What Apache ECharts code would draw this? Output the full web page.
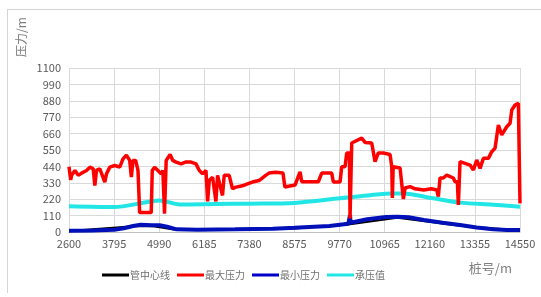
<!DOCTYPE html>
<html>
<head>
<meta charset="utf-8">
<script src="https://cdn.jsdelivr.net/npm/echarts@6/dist/echarts.min.js"></script>
<style>
  html, body { margin: 0; padding: 0; background: #fff; }
  #wrap { position: relative; width: 541px; height: 297px; }
  #frame {
    position: absolute; left: 7px; top: 9px; right: -2px; bottom: 4px;
    border-left: 1px solid #d4d4d4; border-top: 1px solid #d4d4d4;
  }
  #chart { position: absolute; left: 0; top: 0; width: 541px; height: 297px; }
</style>
</head>
<body>
<div id="wrap">
  <div id="frame"></div>
  <div id="chart"></div>
</div>
<script>
// 桩号 / 压力 读数
const seriesNames = ["管中心线", "最大压力", "最小压力", "承压值"];

const pipeStations = [2600, 4300, 4800, 5450, 8575, 10000, 11300, 12960, 14550];
const pipeValues = [6, 38, 40, 14, 24, 50, 96, 42, 10];

const maxStations = [
  2600, 2644, 2670, 2758, 2846, 2934, 3066, 3154, 3241, 3285, 3329, 3417, 3461, 3549, 3593, 3681,
  3813, 3944, 4032, 4120, 4208, 4252, 4296, 4366, 4428, 4472, 4779, 4806, 4867, 4955, 5043, 5087,
  5131, 5175, 5280, 5350, 5438, 5570, 5702, 5834, 5965, 6053, 6141, 6229, 6273, 6317, 6405, 6493,
  6537, 6581, 6668, 6712, 6844, 6932, 7020, 7196, 7328, 7460, 7635, 7811, 7899, 8074, 8270, 8320,
  8589, 8722, 8766, 9207, 9296, 9561, 9604, 9782, 9826, 9914, 9959, 10030, 10047, 10091, 10356, 10450,
  10621, 10709, 10797, 10930, 11107, 11152, 11168, 11190, 11239, 11372, 11460, 11504, 11637, 11769, 12000, 12200,
  12344, 12386, 12431, 12519, 12609, 12784, 12829, 12890, 12917, 12961, 13227, 13315, 13404, 13492, 13580, 13712,
  13802, 13889, 13977, 14066, 14199, 14287, 14332, 14419, 14507, 14550
];
const maxValues = [
  438, 350, 380, 413, 380, 395, 413, 435, 424, 312, 413, 424, 435, 335, 390, 435,
  446, 435, 491, 516, 480, 368, 480, 480, 413, 130, 130, 413, 435, 413, 390, 413,
  123, 480, 520, 480, 469, 457, 470, 469, 457, 413, 390, 413, 205, 346, 368, 205,
  380, 380, 245, 380, 380, 290, 301, 310, 323, 335, 345, 380, 395, 400, 395, 302,
  315, 404, 337, 337, 395, 395, 335, 335, 438, 438, 530, 530, 90, 597, 630, 600,
  597, 472, 530, 530, 520, 438, 228, 438, 429, 429, 221, 295, 304, 290, 282, 290,
  282, 237, 362, 362, 382, 362, 337, 337, 181, 472, 449, 416, 483, 427, 494, 494,
  539, 561, 718, 651, 706, 729, 818, 852, 863, 192
];

const minStations = [
  2600, 3200, 3795, 4050, 4300, 4500, 4800, 5000, 5200, 5450, 6000, 7000, 8000, 8575, 9500, 10000,
  10040, 10047, 10060, 10500, 11000, 11300, 11600, 12000, 12500, 12960, 13400, 13840, 14200, 14550
];
const minValues = [
  8, 10, 15, 25, 40, 48, 46, 45, 35, 18, 15, 18, 22, 28, 40, 55,
  60, 115, 62, 85, 100, 103, 99, 80, 62, 47, 30, 18, 14, 13
];

const bearStations = [2600, 3795, 4650, 5000, 5530, 6500, 7380, 8575, 9780, 10500, 11190, 11450, 12250, 12960, 13840, 14550];
const bearValues = [172, 167, 200, 212, 185, 188, 190, 195, 226, 245, 259, 259, 226, 197, 183, 170];

const xMin = 2600, xMax = 14550, xStep = 1195;
const yMin = 0, yMax = 1100, yStep = 110;

function zip(xs, ys) {
  return xs.map((x, i) => [x, ys[i]]);
}

const chart = echarts.init(document.getElementById("chart"));
const font = "'Noto Sans CJK SC', 'Noto Sans', sans-serif";
const labelColor = "#595959";
const gridColor = "#d9d9d9";

chart.setOption({
  animation: false,
  textStyle: { fontFamily: font },
  grid: { left: 69, right: 21, top: 68, bottom: 65 },
  legend: {
    left: 97,
    top: 265,
    icon: "rect",
    itemWidth: 27,
    itemHeight: 3,
    itemGap: 7,
    textStyle: { fontSize: 10, color: "#6f6f6f", fontFamily: font, padding: [0, 0, 0, -4] },
    data: seriesNames,
  },
  xAxis: {
    type: "value",
    min: xMin,
    max: xMax,
    interval: xStep,
    axisTick: { show: false },
    axisLine: { lineStyle: { color: "#bfbfbf" } },
    axisLabel: { color: labelColor, fontSize: 11, margin: 6, fontFamily: font, formatter: (v) => String(v) },
    splitLine: { lineStyle: { color: gridColor } },
  },
  yAxis: {
    type: "value",
    min: yMin,
    max: yMax,
    interval: yStep,
    axisTick: { show: false },
    axisLine: { show: false },
    axisLabel: { color: labelColor, fontSize: 11, margin: 8, fontFamily: font, formatter: (v) => String(v) },
    splitLine: { lineStyle: { color: gridColor } },
  },
  graphic: [
    {
      type: "text",
      x: 21,
      y: 37,
      rotation: Math.PI / 2,
      style: {
        text: "压力/m",
        fill: "#7f7f7f",
        font: "12px " + font,
        textAlign: "center",
        textVerticalAlign: "middle",
      },
    },
    {
      type: "text",
      right: 29,
      top: 262,
      style: {
        text: "桩号/m",
        fill: "#7f7f7f",
        font: "13px " + font,
      },
    },
  ],
  series: [
    {
      name: seriesNames[0],
      type: "line",
      data: zip(pipeStations, pipeValues),
      showSymbol: false,
      symbol: "none",
      z: 1,
      itemStyle: { color: "#000000" },
      lineStyle: { color: "#000000", width: 2 },
    },
    {
      name: seriesNames[1],
      type: "line",
      data: zip(maxStations, maxValues),
      symbol: "none",
      z: 4,
      itemStyle: { color: "#ff0000" },
      lineStyle: { color: "#ff0000", width: 3.5 },
    },
    {
      name: seriesNames[2],
      type: "line",
      data: zip(minStations, minValues),
      symbol: "none",
      z: 3,
      itemStyle: { color: "#0000c8" },
      lineStyle: { color: "#0010b8", width: 4 },
    },
    {
      name: seriesNames[3],
      type: "line",
      data: zip(bearStations, bearValues),
      symbol: "none",
      smooth: 0.3,
      z: 2,
      itemStyle: { color: "#22e6e6" },
      lineStyle: { color: "#22e6e6", width: 4 },
    },
  ],
});
</script>
</body>
</html>
